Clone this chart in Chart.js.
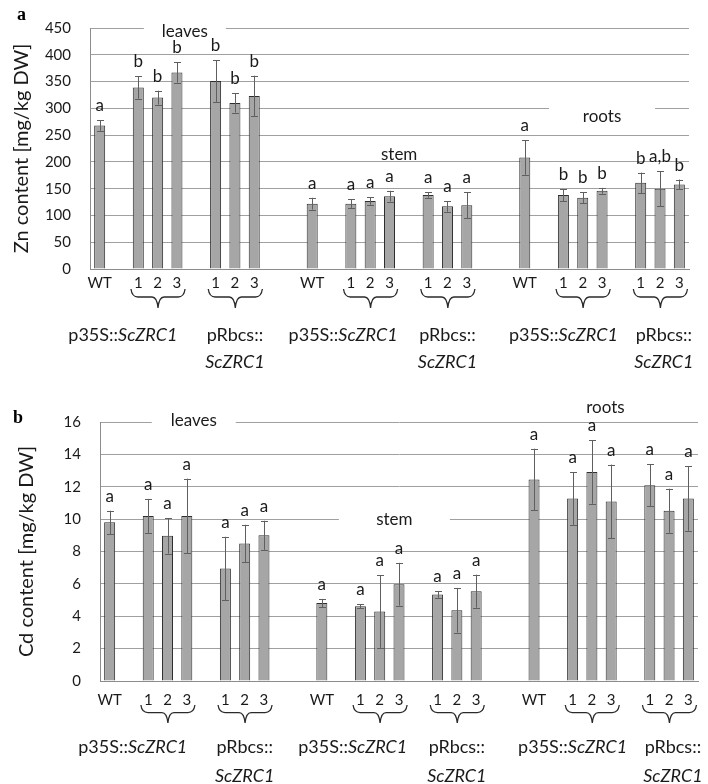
<!DOCTYPE html>
<html><head><meta charset="utf-8">
<script src="https://cdn.jsdelivr.net/npm/chart.js@4.4.1/dist/chart.umd.min.js"></script>
<style>
html,body{margin:0;padding:0;background:#fff;width:708px;height:784px;overflow:hidden;}
#ca{position:absolute;left:0;top:0;}
#cb{position:absolute;left:0;top:390px;}
</style></head><body>
<canvas id="ca" width="708" height="390"></canvas>
<canvas id="cb" width="708" height="394"></canvas>
<script>
// ---- data ----
const categories = ['WT','', '1','2','3','', '1','2','3','','',
                    'WT','', '1','2','3','', '1','2','3','','',
                    'WT','', '1','2','3','', '1','2','3'];
// order inside each organ: WT, p35S::ScZRC1 1-3, pRbcs::ScZRC1 1-3
const znLeaves    = [268, 339, 320, 367, 351, 310, 323];
const znLeavesErr = [10, 21, 13, 19, 39, 18, 38];
const znStem      = [122, 122, 127, 136, 138, 117, 119];
const znStemErr   = [11, 8, 7, 10, 5, 10, 24];
const znRoots     = [208, 138, 133, 146, 161, 150, 158];
const znRootsErr  = [32, 11, 10, 5.5, 19, 33, 9];
const znLeavesSig = ['a','b','b','b','b','b','b'];
const znStemSig   = ['a','a','a','a','a','a','a'];
const znRootsSig  = ['a','b','b','b','b','a,b','b'];

const cdLeaves    = [9.8, 10.2, 8.97, 10.2, 6.95, 8.5, 9.0];
const cdLeavesErr = [0.72, 1.05, 1.1, 2.3, 1.96, 1.15, 0.9];
const cdStem      = [4.82, 4.62, 4.29, 5.98, 5.34, 4.37, 5.55];
const cdStemErr   = [0.25, 0.13, 2.24, 1.32, 0.2, 1.38, 1.02];
const cdRoots     = [12.45, 11.28, 12.91, 11.09, 12.10, 10.52, 11.28];
const cdRootsErr  = [1.9, 1.63, 1.96, 2.28, 1.3, 1.36, 2.0];
const cdLeavesSig = ['a','a','a','a','a','a','a'];
const cdStemSig   = ['a','a','a','a','a','a','a'];
const cdRootsSig  = ['a','a','a','a','a','a','a'];

const znTicks = [0,50,100,150,200,250,300,350,400,450];
const cdTicks = [0,2,4,6,8,10,12,14,16];
const organNames = ['leaves','stem','roots'];

// ---- helpers ----
function expand(a, b, c) {
  const out = new Array(categories.length).fill(null);
  [a, b, c].forEach((arr, o) => {
    const base = o * 11;
    [base, base+2, base+3, base+4, base+6, base+7, base+8].forEach((k, j) => out[k] = arr[j]);
  });
  return out;
}
const FONT = 'Lato';
const TXT = '#1a1a1a';

function brace(ctx, x0, x1, y0, y1) {
  const xc = (x0 + x1) / 2, ym = y0 + (y1 - y0) * 0.42;
  ctx.beginPath();
  ctx.moveTo(x0, y0);
  ctx.quadraticCurveTo(x0 + 1, ym, x0 + 7, ym);
  ctx.lineTo(xc - 6, ym);
  ctx.quadraticCurveTo(xc - 1, ym, xc, y1);
  ctx.quadraticCurveTo(xc + 1, ym, xc + 6, ym);
  ctx.lineTo(x1 - 7, ym);
  ctx.quadraticCurveTo(x1 - 1, ym, x1, y0);
  ctx.stroke();
}

const overlay = {
  id: 'overlay',
  beforeDatasetsDraw(chart, args, o) {
    const ctx = chart.ctx, xs = chart.scales.x, ys = chart.scales.y;
    ctx.save();
    ctx.font = '17px ' + FONT;
    ctx.textAlign = 'center';
    ctx.textBaseline = 'middle';
    o.organs.forEach((g, i) => {
      const x = xs.getPixelForValue(g.idx), y = ys.getPixelForValue(g.val);
      if (g.w) { ctx.fillStyle = '#fff'; ctx.fillRect(x - g.w / 2, y - 13, g.w, 26); }
      ctx.fillStyle = TXT;
      ctx.fillText(organNames[i], x, y);
    });
    ctx.restore();
  },
  afterDraw(chart, args, o) {
    const ctx = chart.ctx, xs = chart.scales.x, ys = chart.scales.y;
    const meta = chart.getDatasetMeta(0);
    ctx.save();
    // error bars
    ctx.strokeStyle = '#5f5f5f';
    ctx.lineWidth = 1;
    o.err.forEach((e, i) => {
      const v = o.vals[i];
      if (v == null) return;
      const x = Math.round(meta.data[i].x) + 0.5;
      const yt = ys.getPixelForValue(v + e), yb = ys.getPixelForValue(v - e);
      ctx.beginPath();
      ctx.moveTo(x, yt); ctx.lineTo(x, yb);
      ctx.moveTo(x - 3.5, Math.round(yt) + 0.5); ctx.lineTo(x + 3.5, Math.round(yt) + 0.5);
      ctx.moveTo(x - 3.5, Math.round(yb) + 0.5); ctx.lineTo(x + 3.5, Math.round(yb) + 0.5);
      ctx.stroke();
    });
    // significance letters
    ctx.fillStyle = TXT;
    ctx.font = '17px ' + FONT;
    ctx.textAlign = 'center';
    ctx.textBaseline = 'alphabetic';
    o.sig.forEach((s, i) => {
      if (!s) return;
      const x = meta.data[i].x;
      const y = ys.getPixelForValue(o.vals[i] + o.err[i]) - 9;
      ctx.fillText(s, x, y);
    });
    // braces
    const bottom = chart.chartArea.bottom;
    ctx.strokeStyle = '#2a2a2a';
    ctx.lineWidth = 1.3;
    [0, 11, 22].forEach(base => {
      [base + 2, base + 6].forEach(k => {
        brace(ctx, xs.getPixelForValue(k - 0.38), xs.getPixelForValue(k + 2.42),
              bottom + o.braceTop, bottom + o.braceBot);
      });
    });
    // group labels
    ctx.textBaseline = 'middle';
    ctx.textAlign = 'left';
    const it = 'italic 18px ' + FONT, nm = '18px ' + FONT;
    function mixed(parts, cx, y) {
      let w = 0;
      parts.forEach(p => { ctx.font = p[1] ? it : nm; w += ctx.measureText(p[0]).width; });
      let x = cx - w / 2;
      parts.forEach(p => { ctx.font = p[1] ? it : nm; ctx.fillText(p[0], x, y); x += ctx.measureText(p[0]).width; });
    }
    o.groupAnchors.forEach((a, i) => {
      const cx = xs.getPixelForValue(a);
      if (i % 2 === 0) {
        mixed([['p35S::', false], ['ScZRC1', true]], cx, bottom + o.l1);
      } else {
        mixed([['pRbcs::', false]], cx, bottom + o.l1);
        mixed([['ScZRC1', true]], cx, bottom + o.l2);
      }
    });
    // panel tag
    ctx.font = 'bold 18px "Liberation Serif"';
    ctx.textAlign = 'left';
    ctx.textBaseline = 'alphabetic';
    ctx.fillStyle = '#000';
    ctx.fillText(o.tag[0], o.tag[1], o.tag[2]);
    ctx.restore();
  }
};

function makeChart(id, P) {
  const vals = expand(P.v[0], P.v[1], P.v[2]);
  const err = expand(P.e[0], P.e[1], P.e[2]);
  const sig = expand(P.s[0], P.s[1], P.s[2]);
  return new Chart(document.getElementById(id), {
    type: 'bar',
    data: {
      labels: categories,
      datasets: [{
        data: vals,
        backgroundColor: '#a6a6a6',
        borderColor: '#2e2e2e',
        borderWidth: 1,
        barPercentage: 0.57,
        categoryPercentage: 1
      }]
    },
    options: {
      responsive: false,
      animation: false,
      devicePixelRatio: 1,
      layout: { padding: { top: P.top, right: P.right, left: 0, bottom: 0 } },
      plugins: {
        legend: { display: false },
        tooltip: { enabled: false },
        overlay: {
          vals, err, sig,
          organs: P.organs,
          braceTop: P.braceTop, braceBot: P.braceBot,
          l1: P.l1, l2: P.l2,
          groupAnchors: [1.2, 7, 12.6, 18, 24, 29.2],
          tag: P.tag
        }
      },
      scales: {
        x: {
          grid: { display: false, drawTicks: false },
          border: { display: true, color: '#8c8c8c', width: 1 },
          ticks: { autoSkip: false, maxRotation: 0, minRotation: 0, color: TXT,
                   font: { family: FONT, size: 15 }, padding: P.xpad },
          afterFit(s) { s.height = P.xh; }
        },
        y: {
          min: 0, max: P.ticks[P.ticks.length - 1],
          afterBuildTicks(s) { s.ticks = P.ticks.map(v => ({ value: v })); },
          grid: { color: '#a0a0a0', lineWidth: 1, drawTicks: false },
          border: { display: true, color: '#8c8c8c', width: 1 },
          ticks: { color: TXT, font: { family: FONT, size: 15 }, padding: P.ypad },
          title: { display: true, text: P.title, color: TXT,
                   font: { family: FONT, size: 20 }, padding: { top: P.tpad, bottom: 0 } },
          afterFit(s) { s.width = P.left; }
        }
      }
    },
    plugins: [overlay]
  });
}

makeChart('ca', {
  v: [znLeaves, znStem, znRoots], e: [znLeavesErr, znStemErr, znRootsErr],
  s: [znLeavesSig, znStemSig, znRootsSig], ticks: znTicks,
  title: 'Zn content [mg/kg DW]',
  top: 10, right: 19, left: 90, xh: 121, ypad: 19, tpad: 10, xpad: 5,
  braceTop: 20, braceBot: 39, l1: 66, l2: 93,
  organs: [{ idx: 4.41, val: 444, w: 82 }, { idx: 15.5, val: 214, w: 0 }, { idx: 26.0, val: 284, w: 106 }],
  tag: ['a', 17, 20]
});
makeChart('cb', {
  v: [cdLeaves, cdStem, cdRoots], e: [cdLeavesErr, cdStemErr, cdRootsErr],
  s: [cdLeavesSig, cdStemSig, cdRootsSig], ticks: cdTicks,
  title: 'Cd content [mg/kg DW]',
  top: 32, right: 10, left: 100, xh: 103, ypad: 19, tpad: 15, xpad: 10,
  braceTop: 24, braceBot: 42, l1: 66, l2: 95,
  organs: [{ idx: 4.36, val: 16.12, w: 84 }, { idx: 14.76, val: 10.0, w: 111 }, { idx: 25.7, val: 16.92, w: 0 }],
  tag: ['b', 13, 33]
});
</script>
</body></html>
